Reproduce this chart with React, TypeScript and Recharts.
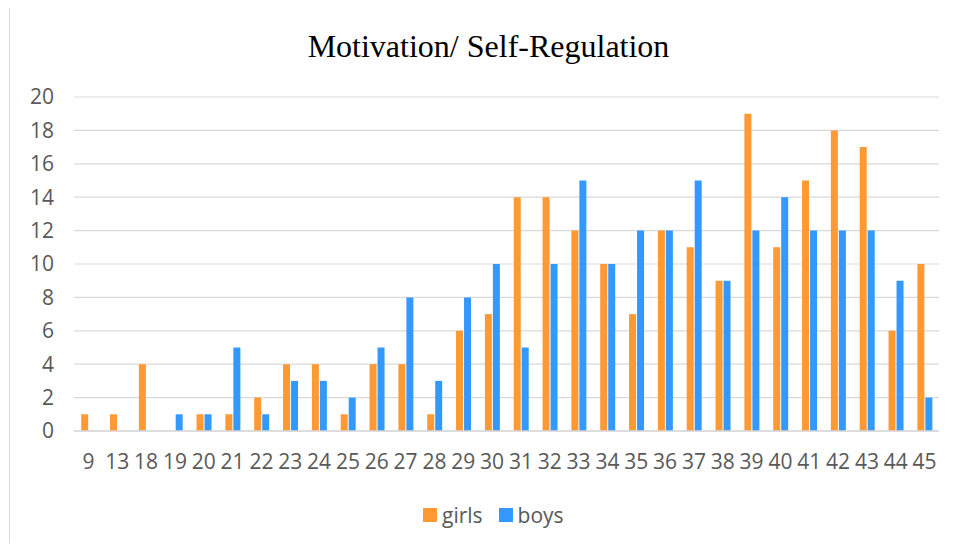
import React from 'react';
import { BarChart, Bar, XAxis, YAxis, CartesianGrid } from 'recharts';

// scores on the x axis
const scores: string[] = [
  '9', '13', '18', '19', '20', '21', '22', '23', '24', '25', '26', '27', '28', '29', '30',
  '31', '32', '33', '34', '35', '36', '37', '38', '39', '40', '41', '42', '43', '44', '45',
];

const girls: number[] = [1, 1, 4, 0, 1, 1, 2, 4, 4, 1, 4, 4, 1, 6, 7, 14, 14, 12, 10, 7, 12, 11, 9, 19, 11, 15, 18, 17, 6, 10];
const boys: number[] = [0, 0, 0, 1, 1, 5, 1, 3, 3, 2, 5, 8, 3, 8, 10, 5, 10, 15, 10, 12, 12, 15, 9, 12, 14, 12, 12, 12, 9, 2];

const yTicks: number[] = [0, 2, 4, 6, 8, 10, 12, 14, 16, 18, 20];

const chartTitle = 'Motivation/ Self-Regulation';

const data = scores.map((score, i) => ({ score, girls: girls[i], boys: boys[i] }));

const ORANGE = '#FF9933';
const BLUE = '#3399FF';
const TEXT = '#595959';
const FONT = '"Open Sans", "Liberation Sans", sans-serif';

const series = [
  { key: 'girls', color: ORANGE },
  { key: 'boys', color: BLUE },
];

const App: React.FC = () => {
  return (
    <div style={{ position: 'relative', width: 955, height: 551, margin: -8, background: '#fff', overflow: 'hidden' }}>
      {/* chart area frame: only top and left edges are visible */}
      <div
        style={{
          position: 'absolute',
          left: 9,
          top: 7,
          width: 960,
          height: 560,
          borderTop: '1px solid #d9d9d9',
          borderLeft: '1px solid #d9d9d9',
        }}
      />
      <div
        style={{
          position: 'absolute',
          left: 0,
          top: 30,
          width: 977,
          textAlign: 'center',
          fontFamily: '"Liberation Serif", "Times New Roman", serif',
          fontSize: 32,
          lineHeight: '32px',
          color: '#000',
        }}
      >
        {chartTitle}
      </div>
      <div style={{ position: 'absolute', left: 0, top: 0 }}>
        <BarChart
          width={955}
          height={551}
          data={data}
          margin={{ top: 97, right: 16, bottom: 90, left: 14 }}
          barCategoryGap="25%"
          barGap={1}
        >
          <CartesianGrid vertical={false} stroke="#d9d9d9" strokeWidth={1.2} />
          <XAxis
            dataKey="score"
            height={30}
            interval={0}
            tickLine={false}
            axisLine={{ stroke: '#d9d9d9', strokeWidth: 1.5 }}
            tickMargin={17}
            tick={{ fill: TEXT, fontSize: 21, fontFamily: FONT }}
          />
          <YAxis
            width={60}
            domain={[0, 20]}
            ticks={yTicks}
            interval={0}
            tickLine={false}
            axisLine={false}
            tickMargin={14}
            tick={{ fill: TEXT, fontSize: 21, fontFamily: FONT }}
          />
          {series.map((s) => (
            <Bar key={s.key} dataKey={s.key} name={s.key} fill={s.color} isAnimationActive={false} />
          ))}
        </BarChart>
      </div>
      {/* legend */}
      <div
        style={{
          position: 'absolute',
          left: 423,
          top: 501,
          display: 'flex',
          alignItems: 'center',
          fontFamily: FONT,
          fontSize: 21,
          lineHeight: '28px',
          color: TEXT,
        }}
      >
        {series.map((s) => (
          <div key={s.key} style={{ display: 'flex', alignItems: 'center', marginRight: 16 }}>
            <span style={{ display: 'inline-block', width: 14, height: 14, background: s.color, marginRight: 5 }} />
            <span>{s.key}</span>
          </div>
        ))}
      </div>
    </div>
  );
};

export default App;
